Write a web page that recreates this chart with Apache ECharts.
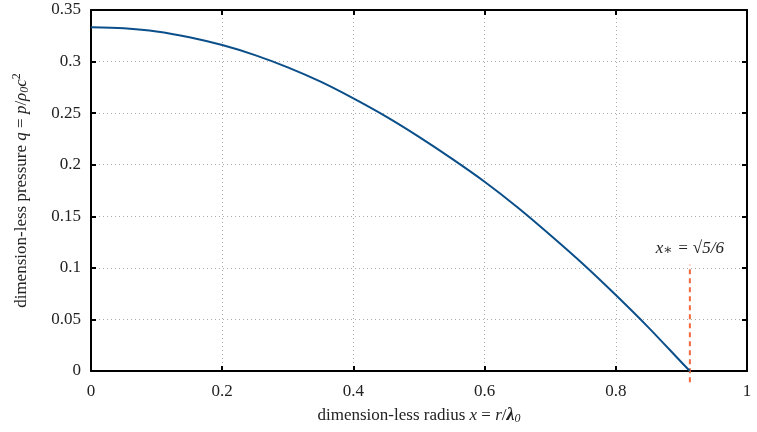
<!DOCTYPE html>
<html><head><meta charset="utf-8">
<script src="https://cdn.jsdelivr.net/npm/echarts@6/dist/echarts.min.js"></script>
<style>html,body{margin:0;padding:0;background:#fff}#c{width:757px;height:432px}</style>
</head><body><div id="c"></div>
<script>
var xValues = [0, 0.05, 0.1, 0.15, 0.2, 0.25, 0.3, 0.35, 0.4, 0.45, 0.5, 0.55, 0.6, 0.65, 0.7, 0.75, 0.8, 0.85, 0.9, 0.9129];
var qValues = [0.3333, 0.3322, 0.3292, 0.3236, 0.316, 0.3063, 0.2944, 0.2805, 0.2643, 0.2466, 0.2270, 0.2059, 0.1835, 0.1588, 0.1319, 0.1038, 0.0737, 0.0421, 0.0085, 0];
var xStar = 0.9129;
var markerX = [xStar, xStar];
var markerY = [-0.011, 0.103];
var xTicks = [0, 0.2, 0.4, 0.6, 0.8, 1];
var yTicks = [0, 0.05, 0.1, 0.15, 0.2, 0.25, 0.3, 0.35];

var FONT = '"Liberation Serif", "DejaVu Serif", serif';
var FS = 17;
var chart = echarts.init(document.getElementById('c'));
var curve = xValues.map(function(x, i){ return [x, qValues[i]]; });
var marker = markerX.map(function(x, i){ return [x, markerY[i]]; });
var gridLine = {show: true, lineStyle: {color: '#aaaaaa', type: [1, 3], width: 1}};
var axLine = {show: true, onZero: false, lineStyle: {color: '#000', width: 2}};
var tick = {show: true, inside: true, length: 5, lineStyle: {color: '#000', width: 2}};
var lblStyle = {fontFamily: FONT, fontSize: FS, color: '#222'};

chart.setOption({
  animation: false,
  grid: {left: 91, right: 10, top: 10, bottom: 61, containLabel: false},
  xAxis: [{
    type: 'value', min: 0, max: 1, interval: 0.2,
    axisLine: axLine, axisTick: tick, splitLine: gridLine,
    axisLabel: Object.assign({margin: 12}, lblStyle),
    name: '{t|dimension-less radius }{i|x}{t| = }{i|r}{t|/}{l|λ}{s|0}',
    nameLocation: 'middle', nameGap: 35,
    nameTextStyle: {fontFamily: FONT, fontSize: FS, color: '#222', rich: {
      t: {fontFamily: FONT, fontSize: FS, color: '#222'},
      i: {fontFamily: FONT, fontSize: FS, fontStyle: 'italic', color: '#222'},
      l: {fontFamily: FONT, fontSize: 18, fontStyle: 'italic', fontWeight: 'bold', color: '#222'},
      s: {fontFamily: FONT, fontSize: 12, fontStyle: 'italic', color: '#222', padding: [7, 0, 0, 0]}
    }}
  }, {
    type: 'value', min: 0, max: 1, interval: 0.2, position: 'top',
    axisLine: axLine, axisTick: tick, splitLine: {show: false}, axisLabel: {show: false}
  }],
  yAxis: [{
    type: 'value', min: 0, max: 0.35, interval: 0.05,
    axisLine: axLine, axisTick: tick, splitLine: gridLine,
    axisLabel: Object.assign({margin: 10}, lblStyle),
    name: '{t|dimension-less pressure }{i|q}{t| = }{i|p}{t|/}{i|ρ}{s|0}{i|c}{p|2}',
    nameLocation: 'middle', nameGap: 59,
    nameTextStyle: {fontFamily: FONT, fontSize: FS, color: '#222', rich: {
      t: {fontFamily: FONT, fontSize: FS, color: '#222'},
      i: {fontFamily: FONT, fontSize: FS, fontStyle: 'italic', color: '#222'},
      s: {fontFamily: FONT, fontSize: 12, fontStyle: 'italic', color: '#222', padding: [7, 0, 0, 0]},
      p: {fontFamily: FONT, fontSize: 12, color: '#222', padding: [0, 0, 9, 0]}
    }}
  }, {
    type: 'value', min: 0, max: 0.35, interval: 0.05, position: 'right',
    axisLine: axLine, axisTick: tick, splitLine: {show: false}, axisLabel: {show: false}
  }],
  series: [{
    type: 'line', data: curve, showSymbol: false, symbol: 'none', smooth: 0.3,
    lineStyle: {color: '#0b4f8a', width: 2}, z: 3
  }, {
    type: 'line', data: marker, showSymbol: false, symbol: 'none', clip: false,
    lineStyle: {color: '#f4683c', width: 2, type: [5, 4]}, z: 2,
    markPoint: {
      symbol: 'circle', symbolSize: 0,
      data: [{coord: [xStar, 0.103]}],
      label: {show: true, position: 'top', distance: 7,
        formatter: '{i|x}{s|∗}{t| = √5/6}',
        rich: {
          i: {fontFamily: FONT, fontSize: FS, fontStyle: 'italic', color: '#222'},
          s: {fontFamily: FONT, fontSize: 14, color: '#222', padding: [5, 0, 0, 0]},
          t: {fontFamily: FONT, fontSize: FS, fontStyle: 'italic', color: '#222'}
        }}
    }
  }]
});
</script></body></html>
